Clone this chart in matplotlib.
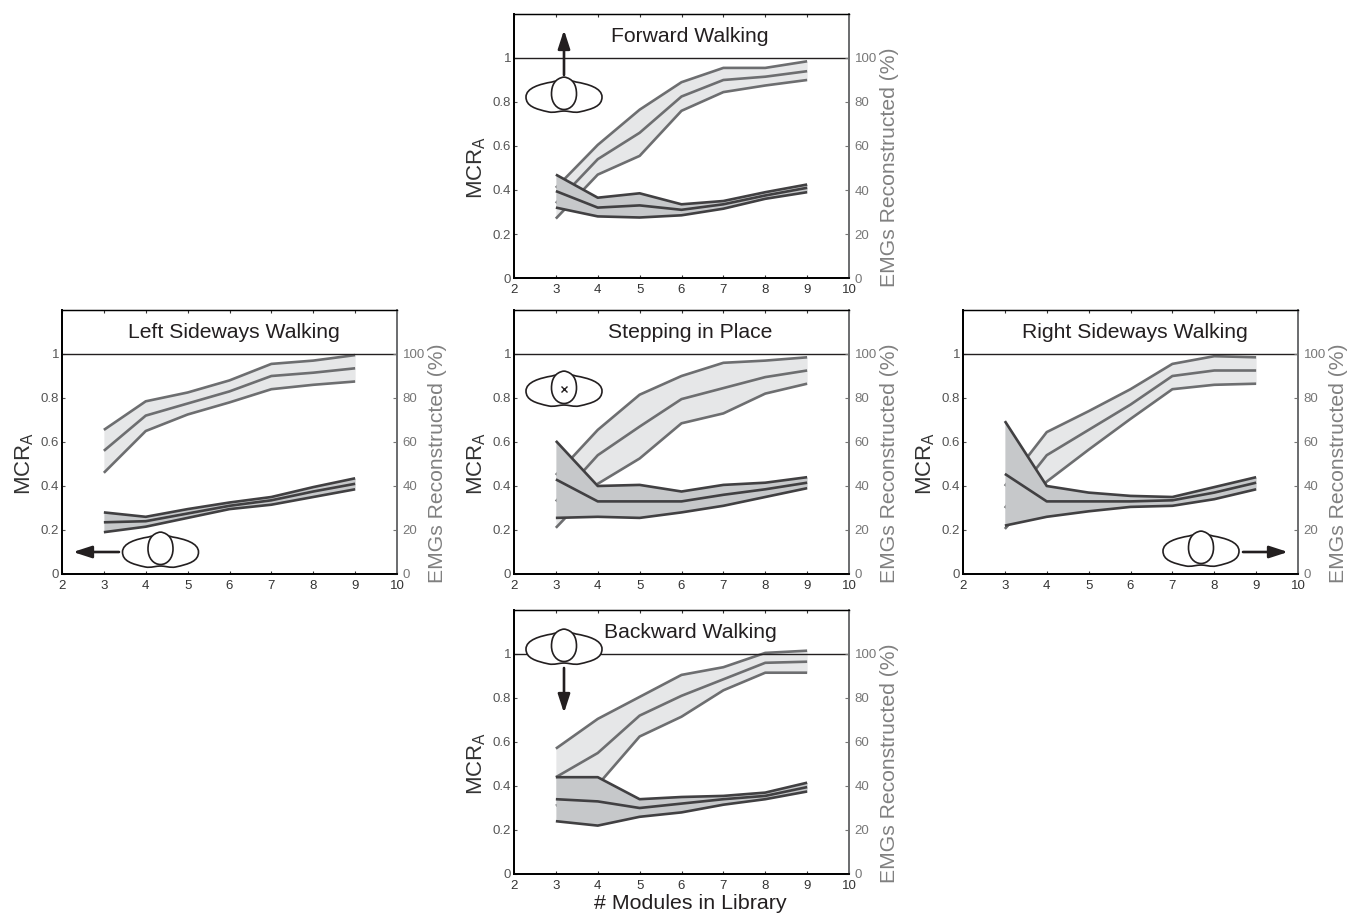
import matplotlib
matplotlib.use("Agg")
import matplotlib.pyplot as plt
from matplotlib.patches import PathPatch
from matplotlib.path import Path

plt.rcParams["font.family"] = ["Liberation Sans", "DejaVu Sans"]
plt.rcParams["mathtext.fontset"] = "custom"
plt.rcParams["mathtext.rm"] = "Liberation Sans"
plt.rcParams["mathtext.default"] = "regular"

W, H = 1348, 914
modules = [3, 4, 5, 6, 7, 8, 9]
x_ticks = [2, 3, 4, 5, 6, 7, 8, 9, 10]
mcr_ticks = [0, 0.2, 0.4, 0.6, 0.8, 1]
mcr_labels = ["0", "0.2", "0.4", "0.6", "0.8", "1"]
emg_ticks = [0, 20, 40, 60, 80, 100]

# EMGs reconstructed (light band), as fraction
fw_emg_hi = [0.41, 0.605, 0.765, 0.89, 0.955, 0.955, 0.985]
fw_emg_mid = [0.34, 0.54, 0.66, 0.825, 0.90, 0.915, 0.94]
fw_emg_lo = [0.27, 0.47, 0.555, 0.76, 0.845, 0.875, 0.90]
# MCR_A (dark band)
fw_mcr_hi = [0.47, 0.365, 0.385, 0.335, 0.35, 0.39, 0.425]
fw_mcr_mid = [0.395, 0.32, 0.33, 0.31, 0.335, 0.375, 0.41]
fw_mcr_lo = [0.32, 0.28, 0.275, 0.285, 0.315, 0.36, 0.39]

left_emg_hi = [0.655, 0.785, 0.825, 0.88, 0.955, 0.97, 0.995]
left_emg_mid = [0.56, 0.72, 0.775, 0.83, 0.90, 0.915, 0.935]
left_emg_lo = [0.46, 0.65, 0.725, 0.78, 0.84, 0.86, 0.875]
left_mcr_hi = [0.28, 0.26, 0.295, 0.325, 0.35, 0.395, 0.435]
left_mcr_mid = [0.235, 0.24, 0.275, 0.31, 0.335, 0.375, 0.41]
left_mcr_lo = [0.19, 0.215, 0.255, 0.295, 0.315, 0.35, 0.385]

step_emg_hi = [0.45, 0.655, 0.815, 0.90, 0.96, 0.97, 0.985]
step_emg_mid = [0.33, 0.54, 0.67, 0.795, 0.845, 0.895, 0.925]
step_emg_lo = [0.21, 0.41, 0.525, 0.685, 0.73, 0.82, 0.865]
step_mcr_hi = [0.605, 0.40, 0.405, 0.375, 0.405, 0.415, 0.44]
step_mcr_mid = [0.43, 0.33, 0.33, 0.33, 0.36, 0.385, 0.415]
step_mcr_lo = [0.255, 0.26, 0.255, 0.28, 0.31, 0.35, 0.39]

right_emg_hi = [0.40, 0.645, 0.74, 0.84, 0.955, 0.99, 0.985]
right_emg_mid = [0.30, 0.54, 0.655, 0.77, 0.90, 0.925, 0.925]
right_emg_lo = [0.205, 0.42, 0.565, 0.705, 0.84, 0.86, 0.865]
right_mcr_hi = [0.695, 0.40, 0.37, 0.355, 0.35, 0.395, 0.44]
right_mcr_mid = [0.455, 0.33, 0.33, 0.33, 0.335, 0.37, 0.415]
right_mcr_lo = [0.22, 0.26, 0.285, 0.305, 0.31, 0.34, 0.385]

back_emg_hi = [0.57, 0.705, 0.805, 0.905, 0.94, 1.005, 1.015]
back_emg_mid = [0.44, 0.55, 0.72, 0.81, 0.885, 0.96, 0.965]
back_emg_lo = [0.31, 0.405, 0.625, 0.715, 0.835, 0.915, 0.915]
back_mcr_hi = [0.44, 0.44, 0.34, 0.35, 0.355, 0.37, 0.415]
back_mcr_mid = [0.34, 0.33, 0.30, 0.32, 0.34, 0.355, 0.395]
back_mcr_lo = [0.24, 0.22, 0.26, 0.28, 0.315, 0.34, 0.375]

LIGHT_FILL, LIGHT_LINE = "#e6e7e8", "#6d6e70"
DARK_FILL, DARK_LINE = "#c6c8ca", "#414042"


def band(ax, lo, mid, hi, fill, line, z):
    ax.fill_between(modules, lo, hi, color=fill, lw=0, zorder=z)
    for s in (lo, mid, hi):
        ax.plot(modules, s, color=line, lw=1.9, solid_capstyle="butt", zorder=z + 1)


def panel(px_left, px_top, title, title_x, emg, mcr, xlabel=None):
    ax = fig.add_axes([px_left / W, 1 - (px_top + 264) / H, 335 / W, 264 / H])
    band(ax, *emg, LIGHT_FILL, LIGHT_LINE, 1)
    band(ax, *mcr, DARK_FILL, DARK_LINE, 3)
    ax.axhline(1, color="#231f20", lw=1.0, zorder=5)
    ax.set_xlim(2, 10)
    ax.set_ylim(0, 1.2)
    ax.set_xticks(x_ticks)
    ax.set_yticks(mcr_ticks)
    ax.set_yticklabels(mcr_labels)
    ax.tick_params(axis="x", direction="in", length=2, width=0.8, top=True, labelsize=9.5,
                   pad=4, colors="#333333")
    ax.tick_params(axis="y", direction="in", length=2, width=0.8, labelsize=9.5, pad=2,
                   colors="#555555")
    ax.text(title_x, 1.1, title, ha="center", va="center", fontsize=15.2, color="#231f20")
    ax.set_ylabel("MCR$_{A}$", fontsize=16, color="#333333", va="center")
    ax.yaxis.set_label_coords(-0.112, 0.42)
    if xlabel:
        ax.set_xlabel(xlabel, fontsize=15.4, color="#231f20", va="center")
        ax.xaxis.set_label_coords(0.525, -0.113)

    rax = ax.twinx()
    rax.set_ylim(0, 120)
    rax.set_yticks(emg_ticks)
    rax.tick_params(axis="y", direction="in", length=3, width=0.8, labelsize=9.5, pad=4,
                    colors="#777777")
    rax.set_ylabel("EMGs Reconstructed (%)", fontsize=15.2, color="#808080", va="center",
                   rotation=90)
    rax.yaxis.set_label_coords(1.12, 0.42)
    for a in (ax, rax):
        a.spines["left"].set_linewidth(1.3)
        a.spines["bottom"].set_linewidth(1.3)
        a.spines["top"].set_linewidth(0.9)
        a.spines["right"].set_linewidth(1.3)
        a.spines["right"].set_color("#6d6e70")
    return ax


def walker(cx, top, cross=False):
    # body seen from above, top = top of the head in pixels
    half = [(12, 5), (24, 7), (38, 11), (38, 20), (38, 29), (29, 32), (15, 35), (10, 36),
            (4, 34), (0, 34)]
    verts = [(0, 34), (-4, 34), (-10, 36), (-15, 35), (-29, 32), (-38, 29), (-38, 20),
             (-38, 11), (-24, 7), (-12, 5), (-6, 3), (6, 3)] + half
    codes = [Path.MOVETO] + [Path.CURVE4] * (len(verts) - 1)
    body = Path([(cx + x, top + y) for x, y in verts], codes)
    over.add_patch(PathPatch(body, fc="white", ec="#231f20", lw=1.2, zorder=5))
    head_v = [(0, 0), (9, 1.5), (12.5, 8), (12.5, 17), (12.5, 26), (7, 32.5), (0, 32.5),
              (-7, 32.5), (-12.5, 26), (-12.5, 17), (-12.5, 8), (-9, 1.5), (0, 0)]
    head_c = [Path.MOVETO] + [Path.CURVE4] * 12
    head = Path([(cx + x, top + y) for x, y in head_v], head_c)
    over.add_patch(PathPatch(head, fc="white", ec="#231f20", lw=1.2, zorder=6))
    if cross:
        over.plot([cx], [top + 18], marker="x", ms=5, mew=1, color="#231f20", zorder=7)


def arrow(x0, y0, x1, y1):
    over.annotate("", xy=(x1, y1), xytext=(x0, y0), zorder=8,
                  arrowprops=dict(arrowstyle="-|>,head_length=0.8,head_width=0.26",
                                  color="#231f20", lw=1.9, mutation_scale=14,
                                  shrinkA=0, shrinkB=0))


fig = plt.figure(figsize=(W / 100, H / 100), dpi=100)

panel(514, 14, "Forward Walking", 6.2, (fw_emg_lo, fw_emg_mid, fw_emg_hi),
      (fw_mcr_lo, fw_mcr_mid, fw_mcr_hi))
panel(62, 310, "Left Sideways Walking", 6.1, (left_emg_lo, left_emg_mid, left_emg_hi),
      (left_mcr_lo, left_mcr_mid, left_mcr_hi))
panel(514, 310, "Stepping in Place", 6.2, (step_emg_lo, step_emg_mid, step_emg_hi),
      (step_mcr_lo, step_mcr_mid, step_mcr_hi))
panel(963, 310, "Right Sideways Walking", 6.1, (right_emg_lo, right_emg_mid, right_emg_hi),
      (right_mcr_lo, right_mcr_mid, right_mcr_hi))
panel(514, 610, "Backward Walking", 6.2, (back_emg_lo, back_emg_mid, back_emg_hi),
      (back_mcr_lo, back_mcr_mid, back_mcr_hi), xlabel="# Modules in Library")

# overlay in pixel coordinates for the little body icons
over = fig.add_axes([0, 0, 1, 1], zorder=10)
over.set_xlim(0, W)
over.set_ylim(H, 0)
over.axis("off")

walker(564, 77)
arrow(564, 75, 564, 30)
walker(160.5, 532)
arrow(119, 552, 73, 552)
walker(564, 371, cross=True)
walker(1201, 531)
arrow(1243, 552, 1288, 552)
walker(564, 629)
arrow(564, 668, 564, 713)

fig.savefig("out.png", dpi=100)
